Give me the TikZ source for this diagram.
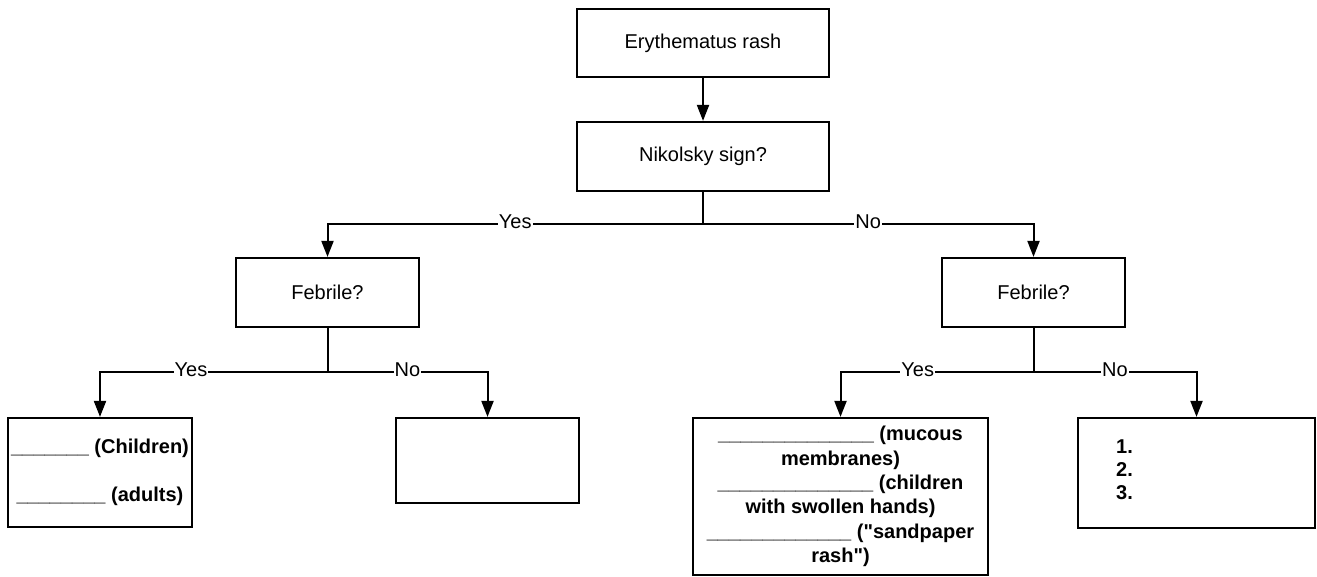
\documentclass[tikz,border=0pt]{standalone}
\usepackage{fontspec}
\newfontfamily\arialf{Liberation Sans}
\usetikzlibrary{arrows.meta}
\begin{document}
\begin{tikzpicture}[x=1pt,y=-1pt,
  every node/.style={font=\arialf\fontsize{20}{24.4}\selectfont},
  box/.style={draw=black, line width=2.2pt, fill=white, inner sep=2pt},
  bbox/.style={box, font=\arialf\fontsize{20}{24.4}\selectfont\bfseries, align=center},
  conn/.style={line width=2pt},
  arr/.style={conn, -{Triangle[width=12pt,length=16pt]}},
  lbl/.style={fill=white, inner sep=1pt, yshift=2pt}
]
\useasboundingbox (0,0) rectangle (1317,577);

\node[box, minimum width=252pt, minimum height=68pt] (erash) at (703,43) {Erythematus rash};
\node[box, minimum width=252pt, minimum height=69pt] (nik) at (703,156.5) {Nikolsky sign?};
\node[box, minimum width=183pt, minimum height=69pt] (febL) at (327.5,292.5) {Febrile?};
\node[box, minimum width=183pt, minimum height=69pt] (febR) at (1033.5,292.5) {Febrile?};

\node[bbox, minimum width=184pt, minimum height=109pt] (ll) at (100,472.5)
  {\_\_\_\_\_\_\_ (Children)\\[24pt]\_\_\_\_\_\_\_\_ (adults)};
\node[box, minimum width=183pt, minimum height=85pt] (lr) at (487.5,460.5) {};
\node[bbox, minimum width=295pt, minimum height=157pt] (rl) at (840.5,496.5)
  {\_\_\_\_\_\_\_\_\_\_\_\_\_\_ (mucous\\membranes)\\
   \_\_\_\_\_\_\_\_\_\_\_\_\_\_ (children\\with swollen hands)\\
   \_\_\_\_\_\_\_\_\_\_\_\_\_ ("sandpaper\\rash")};
\node[box, minimum width=237pt, minimum height=110pt] (rr) at (1196.5,473) {};
\node[font=\arialf\fontsize{20}{23}\selectfont\bfseries, align=left, anchor=west, inner sep=0pt] (rrtext) at (1116,469.5) {1.\\2.\\3.};

\coordinate (j1) at (703,224);
\coordinate (j2) at (327.5,372);
\coordinate (j3) at (1033.5,372);

\draw[arr] (erash) -- (nik);
\draw[conn] (nik.south) -- (j1);
\draw[arr] (j1) -| node[lbl, pos=0.25] (yes1) {Yes} (febL.north);
\draw[arr] (j1) -| node[lbl, pos=0.25] (no1) {No} (febR.north);

\draw[conn] (febL.south) -- (j2);
\draw[arr] (j2) -| node[lbl, pos=0.3] (yes2) {Yes} (ll.north);
\draw[arr] (j2) -| node[lbl, pos=0.25] (no2) {No} (lr.north);

\draw[conn] (febR.south) -- (j3);
\draw[arr] (j3) -| node[lbl, pos=0.3] (yes3) {Yes} (rl.north);
\draw[arr] (j3) -| node[lbl, pos=0.25] (no3) {No} (rr.north);
\end{tikzpicture}
\end{document}
